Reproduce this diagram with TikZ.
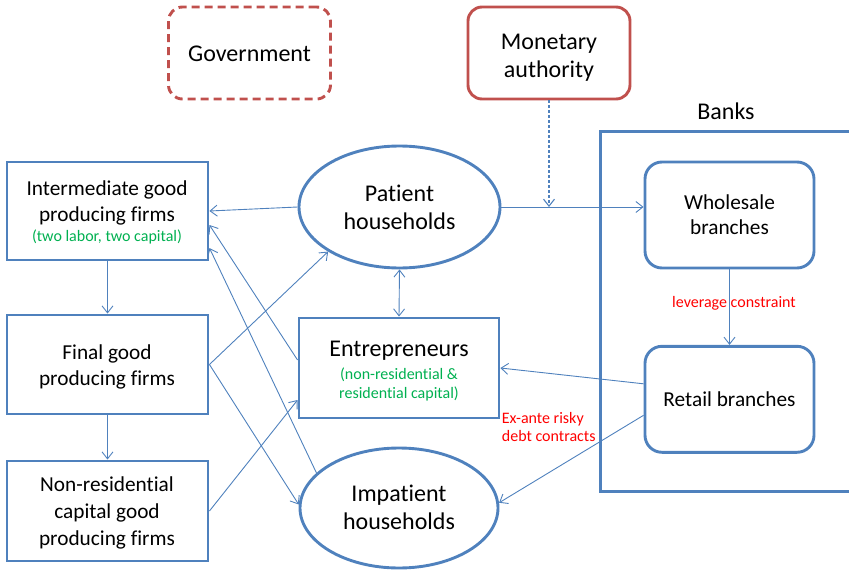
\documentclass[tikz,border=0pt]{standalone}
\usepackage{fontspec}
\setmainfont{Carlito}[Ligatures=NoCommon]
\usetikzlibrary{arrows.meta,shapes.geometric}
\definecolor{frameblue}{HTML}{4F81BD}
\definecolor{framered}{HTML}{C0504D}
\definecolor{notegreen}{HTML}{00B050}
\definecolor{notered}{HTML}{FF0000}

\begin{document}
\begin{tikzpicture}[x=1pt,y=-1pt,
  agent/.style={draw=frameblue,line width=2.9pt,rectangle,inner sep=0pt},
  branch/.style={draw=frameblue,line width=2.9pt,rectangle,rounded corners=17pt,inner sep=0pt,
                 minimum width=169pt,minimum height=106pt},
  household/.style={draw=frameblue,line width=2.9pt,ellipse,inner sep=0pt},
  authority/.style={draw=framered,line width=2.9pt,rectangle,rounded corners=14pt,inner sep=0pt,
                    minimum width=162pt,minimum height=92pt},
  % multi-line labels are anchored at the baseline of their last line
  bigtext/.style={font=\fontsize{24}{#1}\selectfont,inner sep=0pt,anchor=base,align=center},
  bigtext/.default=28,
  midtext/.style={font=\fontsize{21.3}{#1}\selectfont,inner sep=0pt,anchor=base,align=center},
  midtext/.default=26.3,
  greennote/.style={font=\fontsize{16}{19}\selectfont,text=notegreen,inner sep=0pt,anchor=base,align=center},
  rednote/.style={font=\fontsize{16}{18.4}\selectfont,text=notered,inner sep=0pt},
  flow/.style={draw=frameblue,line width=0.9pt,-{Straight Barb[length=7pt,width=11pt]}},
]
\useasboundingbox (0,0) rectangle (849,570);

% policy makers
\node[authority,dash pattern=on 8pt off 5pt] (gov) at (249.5,53) {};
\node[authority] (mon) at (549,53) {};
\node[bigtext] (govtext) at (249.5,61) {Government};
\node[bigtext=28] (montext) at (549,77) {Monetary\\authority};

% banking sector
\node[agent,line width=3pt,minimum width=280pt,minimum height=360pt] (banks) at (740,311) {};
\node[bigtext] (bankstext) at (726,119) {Banks};
\node[branch] (whole) at (729.5,215) {};
\node[branch] (retail) at (729.5,399.3) {};
\node[midtext=25] (wholetext) at (729.5,234.3) {Wholesale\\branches};
\node[midtext] (retailtext) at (729.5,406.7) {Retail branches};

% households and entrepreneurs
\node[household,minimum width=201pt,minimum height=122pt] (pat) at (399.5,207) {};
\node[household,minimum width=198pt,minimum height=120pt] (imp) at (399,508) {};
\node[agent,minimum width=200pt,minimum height=100pt] (ent) at (399,368) {};
\node[bigtext=28] (pattext) at (399.5,229) {Patient\\households};
\node[bigtext=28] (imptext) at (399,529) {Impatient\\households};
\node[bigtext] (enttext) at (399,356.7) {Entrepreneurs};
\node[greennote] (entnote) at (399,398.3) {(non-residential \&\\residential capital)};

% producing firms
\node[agent,minimum width=201pt,minimum height=98pt] (inter) at (107.5,211) {};
\node[agent,minimum width=201pt,minimum height=99pt] (final) at (107.5,364.5) {};
\node[agent,minimum width=201pt,minimum height=100pt] (nonres) at (107.5,511) {};
\node[midtext=26.5] (intertext) at (107,221.5) {Intermediate good\\producing firms};
\node[greennote] (internote) at (107,241.7) {(two labor, two capital)};
\node[midtext=26] (finaltext) at (107,385) {Final good\\producing firms};
\node[midtext=26.65] (nonrestext) at (107,545) {Non-residential\\capital good\\producing firms};

% flows between agents
\draw[flow] (pat.west) -- (inter.east);
\draw[flow] (inter.south) -- (final.north);
\draw[flow] (final.south) -- (nonres.north);
\draw[flow] (final.east) -- (pat.212);
\draw[flow] (final.east) -- (imp.178);
\draw[flow] (nonres.east) -- ([yshift=-32pt]ent.west);
\draw[flow] ([yshift=8pt]ent.west) -- ([yshift=-14pt]inter.east);
\draw[flow] (imp.157) -- ([yshift=-37pt]inter.east);
\draw[flow,{Straight Barb[length=7pt,width=11pt]}-{Straight Barb[length=7pt,width=11pt]}] (pat.south) -- (ent.north);
\draw[flow] (pat.east) -- (pat.east -| whole.west);
\coordinate (policyhit) at (mon.south |- pat.east);
\draw[flow,line width=1.1pt,dash pattern=on 3pt off 2pt] (mon.south) -- (policyhit);
\draw[flow] (whole.south) -- (retail.north);
\draw[flow] ([yshift=15.5pt]retail.west) -- (ent.east);
\draw[flow] ([yshift=-16pt]retail.west) -- (imp.3);

% contract annotations
\node[rednote,anchor=base] (levnote) at (734,307.3) {leverage constraint};
\node[rednote,anchor=base west,align=left] (debtnote) at (501.7,441.7) {Ex-ante risky\\debt contracts};
\end{tikzpicture}
\end{document}
